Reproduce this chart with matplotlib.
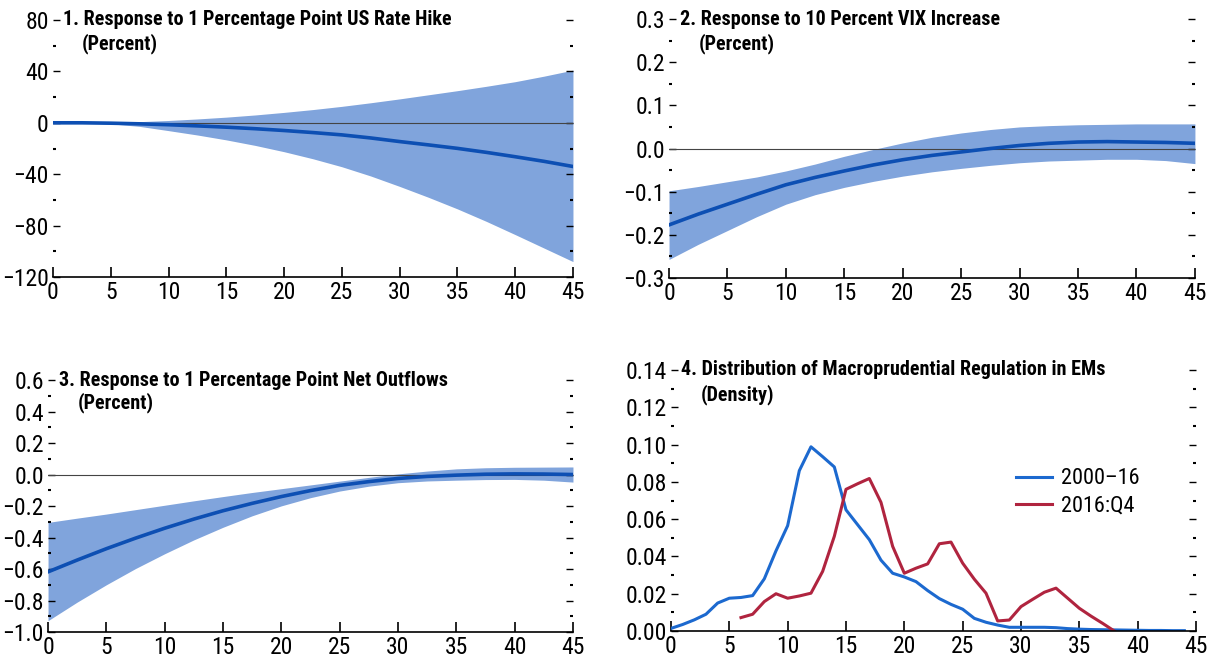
import numpy as np
import matplotlib; matplotlib.use("Agg"); import matplotlib.pyplot as plt
from matplotlib import font_manager
from matplotlib.ticker import MultipleLocator, FixedLocator, FuncFormatter

# fonts: want a condensed face if one exists
names = {f.name for f in font_manager.fontManager.ttflist}
fam = [n for n in ["Liberation Sans Narrow", "DejaVu Sans Condensed", "Roboto Condensed", "Open Sans Condensed"] if n in names] + ["DejaVu Sans"]
print("fonts:", fam)
plt.rcParams["font.family"] = fam

# horizon (months) for the impulse responses
h = np.arange(0, 45.1, 2.5)

us_mid = [0, 0, -0.3, -0.8, -1.5, -2.4, -3.4, -4.6, -6, -7.6, -9.4, -11.8, -14.6, -17.2, -19.9, -23, -26.4, -30, -34]
us_hi = [0, 0.1, 0.3, 0.9, 1.8, 3, 4.4, 6.1, 8.1, 10.3, 12.8, 15.6, 18.6, 21.8, 25, 28.4, 32, 36.3, 41]
us_lo = [0, -0.2, -0.8, -2.8, -6.1, -9.5, -13.3, -17.6, -22.5, -28, -34.2, -41.4, -49.5, -58, -67, -76.7, -87, -97.5, -108]

vix_mid = [-0.177, -0.152, -0.129, -0.106, -0.084, -0.067, -0.052, -0.038, -0.026, -0.016, -0.008, 0.0, 0.007, 0.012, 0.015, 0.016, 0.015, 0.014, 0.012]
vix_hi = [-0.098, -0.088, -0.077, -0.066, -0.052, -0.036, -0.018, -0.002, 0.013, 0.026, 0.036, 0.044, 0.05, 0.053, 0.055, 0.056, 0.057, 0.057, 0.057]
vix_lo = [-0.257, -0.222, -0.19, -0.158, -0.129, -0.107, -0.09, -0.076, -0.064, -0.054, -0.046, -0.039, -0.033, -0.029, -0.027, -0.025, -0.025, -0.028, -0.035]

out_mid = [-0.618, -0.543, -0.471, -0.404, -0.341, -0.283, -0.230, -0.183, -0.140, -0.102, -0.069, -0.045, -0.025, -0.012, -0.004, 0.002, 0.004, 0.003, 0.0]
out_hi = [-0.304, -0.277, -0.251, -0.223, -0.195, -0.167, -0.14, -0.114, -0.09, -0.066, -0.042, -0.018, 0.004, 0.022, 0.036, 0.043, 0.046, 0.047, 0.048]
out_lo = [-0.928, -0.81, -0.70, -0.597, -0.503, -0.415, -0.335, -0.262, -0.199, -0.147, -0.105, -0.074, -0.052, -0.041, -0.036, -0.032, -0.031, -0.036, -0.048]

# macroprudential index distribution
mp_x1 = np.arange(0, 45)
mp_d1 = [0.0014, 0.0035, 0.006, 0.009, 0.015, 0.0176, 0.018, 0.019, 0.028, 0.043, 0.0565, 0.086, 0.0988, 0.0935, 0.088,
         0.065, 0.057, 0.049, 0.038, 0.031, 0.029, 0.0265, 0.0217, 0.0174, 0.0143, 0.0117, 0.0068, 0.0047, 0.0032, 0.002,
         0.002, 0.002, 0.002, 0.0018, 0.0013, 0.001, 0.0008, 0.0007, 0.0006, 0.0005, 0.0004, 0.0003, 0.0003, 0.0002, 0.0002]
mp_x2 = np.arange(6, 39)
mp_d2 = [0.0072, 0.009, 0.0158, 0.02, 0.0176, 0.0188, 0.0203, 0.032, 0.0508, 0.076, 0.079, 0.0818, 0.069, 0.0454, 0.031,
         0.0337, 0.036, 0.0468, 0.0477, 0.0364, 0.0278, 0.0203, 0.0054, 0.0059, 0.0131, 0.017, 0.0208, 0.023, 0.0176,
         0.0122, 0.008, 0.0041, 0.0]

BAND = "#80a4dc"; LINE = "#0d4fb3"; C1 = "#1c69cf"; C2 = "#b0243f"

fig = plt.figure(figsize=(12.07, 6.6), dpi=100)
pos = [(0.0439, 0.5803, 0.4308, 0.3894), (0.5543, 0.5788, 0.4357, 0.3924),
       (0.0398, 0.0424, 0.4349, 0.3818), (0.5559, 0.0439, 0.4350, 0.3955)]
axs = [fig.add_axes(p) for p in pos]

def fmt(dec):
    def f(v, p):
        s = f"{round(v, dec) + 0.0:.{dec}f}"
        return s.replace("-", "\u2212")
    return FuncFormatter(f)

def style(ax, lo, hi, major, dec, title, sub, sub_y):
    ax.set_xlim(0, 45); ax.set_ylim(lo, hi)
    for s in ["top", "left", "right"]: ax.spines[s].set_visible(False)
    ax.spines["bottom"].set_linewidth(1.2)
    ax.xaxis.set_major_locator(MultipleLocator(5))
    ax.yaxis.set_major_locator(FixedLocator(np.round(np.arange(lo, hi + major / 2, major), 6)))
    ax.yaxis.set_minor_locator(FixedLocator(np.round(np.arange(lo + major / 2, hi, major), 6)))
    ax.yaxis.set_major_formatter(fmt(dec))
    ax.tick_params(axis="x", direction="in", length=7, width=1.2, labelsize=17, pad=3)
    ax.tick_params(axis="y", which="major", direction="in", length=5, width=1, labelsize=17, pad=3, right=True)
    ax.tick_params(axis="y", which="minor", direction="in", length=2, width=1.5, right=True)
    ax.text(0.02, 1.0, title, transform=ax.transAxes, fontsize=14.5, fontweight="bold", va="center", ha="left")
    ax.text(0.056, sub_y, sub, transform=ax.transAxes, fontsize=14.5, fontweight="bold", va="center", ha="left")

panels = [(us_lo, us_mid, us_hi, -120, 80, 40, 0, "1. Response to 1 Percentage Point US Rate Hike", 0.907),
          (vix_lo, vix_mid, vix_hi, -0.3, 0.3, 0.1, 1, "2. Response to 10 Percent VIX Increase", 0.903),
          (out_lo, out_mid, out_hi, -1.0, 0.6, 0.2, 1, "3. Response to 1 Percentage Point Net Outflows", 0.909)]
for ax, (lo_, mid_, hi_, lo, hi, mj, dec, t, sy) in zip(axs[:3], panels):
    ax.fill_between(h, lo_, hi_, color=BAND, lw=0)
    ax.axhline(0, color="#444444", lw=0.8)
    ax.plot(h, mid_, color=LINE, lw=2.6)
    style(ax, lo, hi, mj, dec, t, "(Percent)", sy)

ax = axs[3]
ax.plot(mp_x1, mp_d1, color=C1, lw=2.2, label="2000–16")
ax.plot(mp_x2, mp_d2, color=C2, lw=2.2, label="2016:Q4")
style(ax, 0, 0.14, 0.02, 2, "4. Distribution of Macroprudential Regulation in EMs", "(Density)", 0.904)
ax.legend(loc="upper left", bbox_to_anchor=(0.62, 0.70), frameon=False, fontsize=16,
          handlelength=1.6, handletextpad=0.4, labelspacing=0.3)

fig.savefig("out.png", dpi=100); plt.close(fig)
